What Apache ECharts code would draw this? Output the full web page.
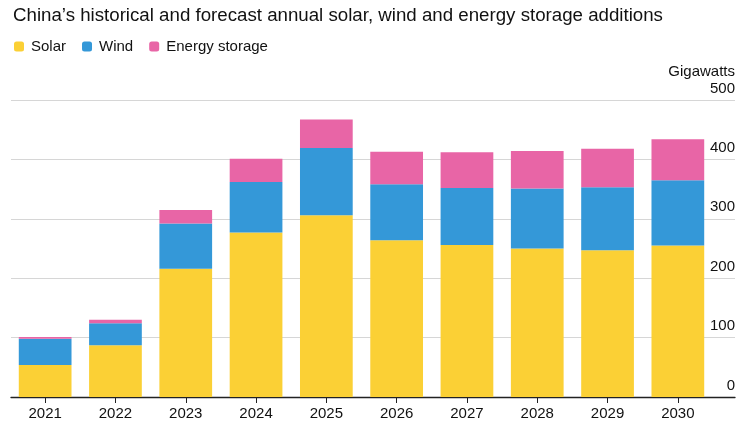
<!DOCTYPE html>
<html>
<head>
<meta charset="utf-8">
<script src="https://cdn.jsdelivr.net/npm/echarts@6/dist/echarts.min.js"></script>
<style>
html,body{margin:0;padding:0;background:#fff;}
#c{width:752px;height:426px;}
</style>
</head>
<body>
<div id="c"></div>
<script>
const years = ['2021','2022','2023','2024','2025','2026','2027','2028','2029','2030'];
const solar = [54, 87, 216, 277, 306, 264, 256, 250, 247, 255];
const wind = [44, 37, 76, 85, 113, 94, 96, 101, 106, 110];
const storage = [3, 6, 23, 39, 48, 55, 60, 63, 65, 69];
const yTicks = [0, 100, 200, 300, 400, 500];

const FONT = '"Liberation Sans", Arial, sans-serif';
const chart = echarts.init(document.getElementById('c'));
const colors = ['#FBD035', '#3498D8', '#E865A6'];

function barSeries(name, data, color) {
  return {
    name: name, type: 'bar', stack: 'total', data: data,
    xAxisIndex: 0, yAxisIndex: 0, barWidth: '75%',
    itemStyle: { color: color }, emphasis: { disabled: true }
  };
}

chart.setOption({
  animation: false,
  textStyle: { fontFamily: FONT },
  title: {
    text: 'China\u2019s historical and forecast annual solar, wind and energy storage additions',
    left: 8, top: 1,
    textStyle: { fontFamily: FONT, fontSize: 18.7, fontWeight: 'normal', color: '#111' }
  },
  legend: {
    left: 9, top: 34,
    itemWidth: 10, itemHeight: 10, itemGap: 16,
    icon: 'roundRect',
    textStyle: { fontFamily: FONT, fontSize: 15, color: '#111', padding: [0, 0, 0, 2] },
    data: ['Solar', 'Wind', 'Energy storage']
  },
  grid: [
    { left: 10, right: 39, top: 100, bottom: 29, containLabel: false, outerBoundsMode: 'none' },
    { left: 11, right: 17, top: 100, bottom: 29, containLabel: false, outerBoundsMode: 'none' }
  ],
  xAxis: [
    {
      type: 'category', data: years, gridIndex: 0,
      axisLine: { show: false },
      axisTick: { show: true, alignWithLabel: true, length: 6, lineStyle: { color: '#222', width: 1 } },
      axisLabel: { fontFamily: FONT, fontSize: 15, color: '#111', margin: 9 }
    },
    {
      type: 'value', gridIndex: 1, min: 0, max: 1,
      axisLine: { show: true, onZero: false, lineStyle: { color: '#222', width: 1.3 } },
      axisTick: { show: false }, axisLabel: { show: false }, splitLine: { show: false }
    }
  ],
  yAxis: [
    {
      type: 'value', gridIndex: 0, min: 0, max: 500, interval: 100,
      axisLine: { show: false }, axisTick: { show: false },
      axisLabel: { show: false }, splitLine: { show: false }
    },
    {
      type: 'value', gridIndex: 1, min: yTicks[0], max: yTicks[yTicks.length - 1], interval: 100,
      position: 'right',
      name: 'Gigawatts', nameLocation: 'end', nameGap: 28,
      nameTextStyle: { fontFamily: FONT, fontSize: 15, color: '#111', align: 'right', verticalAlign: 'middle' },
      axisLine: { show: false, onZero: false }, axisTick: { show: false },
      axisLabel: {
        inside: true, margin: 0, align: 'right', verticalAlign: 'bottom',
        fontFamily: FONT, fontSize: 15, color: '#111', lineHeight: 15, padding: [0, 0, 4, 0]
      },
      splitLine: { show: true, lineStyle: { color: '#d6d6d6', width: 1 } }
    }
  ],
  series: [
    barSeries('Solar', solar, colors[0]),
    barSeries('Wind', wind, colors[1]),
    barSeries('Energy storage', storage, colors[2])
  ]
});
</script>
</body>
</html>
